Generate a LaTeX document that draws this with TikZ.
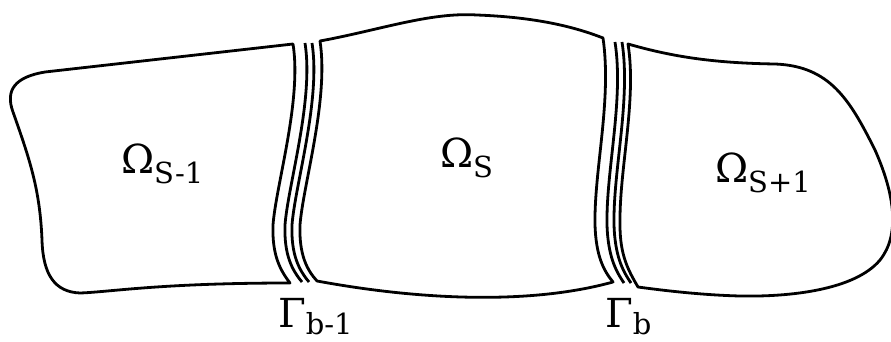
\documentclass[tikz,border=0pt]{standalone}
\usepackage{fontspec}
\setmainfont{DejaVu Serif}
\newcommand{\sublab}[3]{{\fontsize{40}{40}\selectfont #1}\raisebox{-#3pt}{\fontsize{29}{29}\selectfont #2}}
\begin{document}
\begin{tikzpicture}[x=1pt,y=-1pt,
  region/.style={line width=2.8pt,line join=round},
  iface/.style={line width=2.8pt},
  lab/.style={anchor=base west,inner sep=0pt,outer sep=0pt}]
\useasboundingbox (0,0) rectangle (891,342);
% left region
\draw[region] (293,44) -- (45,72) .. controls (15,77) and (5,90) .. (13,112)
  .. controls (30,160) and (40,190) .. (42,240)
  .. controls (43,275) and (55,292) .. (80,293)
  .. controls (110,292) and (160,283) .. (290,283)
  .. controls (280,270) and (272,255) .. (273,225)
  .. controls (276,185) and (302,100) .. (293,44) -- cycle;
% interface b-1
\draw[iface] (305,43) .. controls (314,100) and (288,185) .. (285,225)
  .. controls (284,255) and (292,270) .. (302,282);
\draw[iface] (312,43) .. controls (321,100) and (295,185) .. (292,225)
  .. controls (291,255) and (299,270) .. (309,282);
% middle region
\draw[region] (320,41) .. controls (380,30) and (430,12) .. (477,15)
  .. controls (530,17) and (570,25) .. (603,38)
  .. controls (612,100) and (594,170) .. (595,225)
  .. controls (596,255) and (603,270) .. (613,282)
  .. controls (530,305) and (420,300) .. (317,281)
  .. controls (307,270) and (299,255) .. (300,225)
  .. controls (303,185) and (329,100) .. (320,41) -- cycle;
% interface b
\draw[iface] (615,42) .. controls (624,100) and (606,170) .. (607,225)
  .. controls (608,255) and (615,270) .. (624,283);
\draw[iface] (622,42) .. controls (631,100) and (613,170) .. (614,225)
  .. controls (615,255) and (622,270) .. (631,283);
% right region
\draw[region] (628,44) .. controls (670,56) and (710,63) .. (775,64)
  .. controls (830,66) and (850,100) .. (875,150)
  .. controls (895,195) and (900,235) .. (880,260)
  .. controls (855,290) and (790,297) .. (740,296)
  .. controls (700,295) and (660,290) .. (638,287)
  .. controls (628,270) and (620,255) .. (620,225)
  .. controls (619,170) and (637,100) .. (628,44) -- cycle;
% labels
\node[lab] (om1) at (121,173) {\sublab{Ω}{S-1}{10}};
\node[lab] (om2) at (440,167) {\sublab{Ω}{S}{10}};
\node[lab] (om3) at (715,182) {\sublab{Ω}{S+1}{10}};
\node[lab] (g1) at (278,327) {\sublab{Γ}{b-1}{7}};
\node[lab] (g2) at (605,327) {\sublab{Γ}{b}{7}};
\end{tikzpicture}
\end{document}
